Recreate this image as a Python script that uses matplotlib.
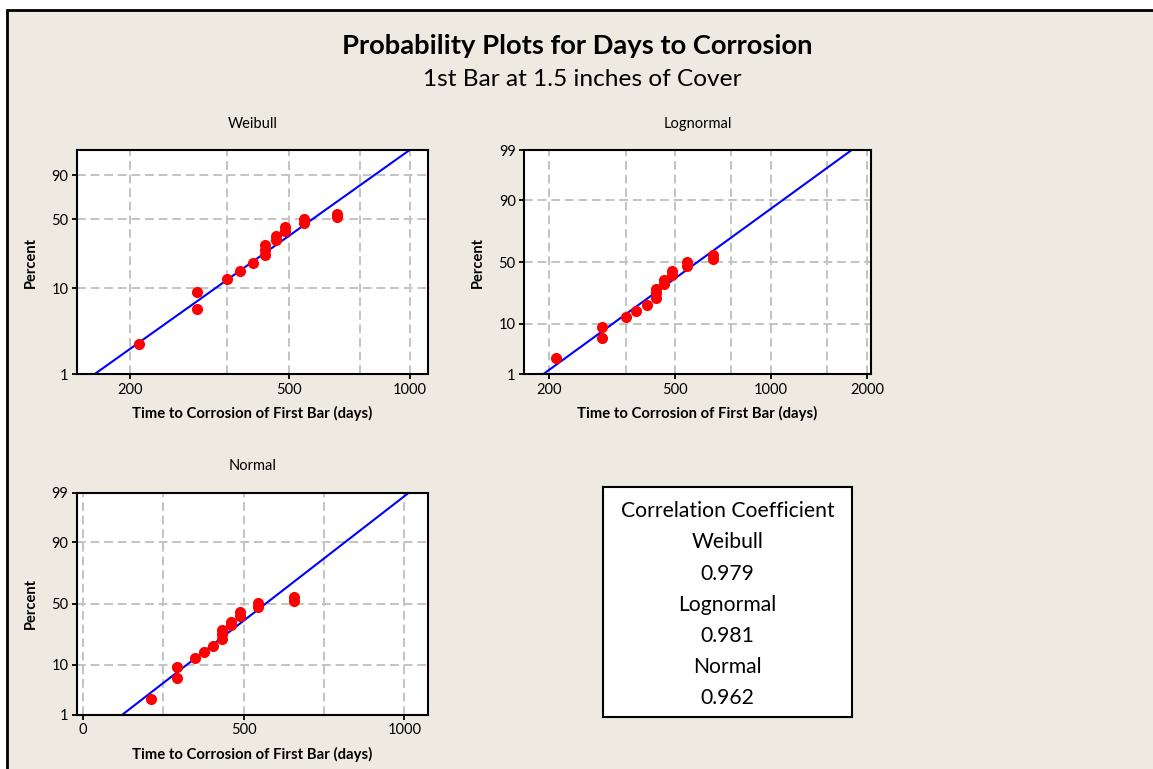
from statistics import NormalDist
import numpy as np
import matplotlib
matplotlib.use('Agg')
import matplotlib.pyplot as plt
from matplotlib.patches import Rectangle

plt.rcParams['font.family'] = ['Lato', 'DejaVu Sans']

# failure times (days) and the plotted percents
days = [211, 294, 294, 350, 377, 406, 434, 434, 434, 462, 462, 489, 489, 545, 545, 658, 658]
percent = [2.3, 5.8, 9.0, 12.6, 15.6, 18.8, 22.8, 26.1, 28.8, 32.4, 35.2, 39.6, 43.0, 46.9, 50.1, 52.4, 55.5]

# fitted lines: time at 1% and at 99%
fit_percent = [1, 99]
fit_weibull = [163, 998]
fit_lognormal = [192, 1790]
fit_normal = [124, 1015]

corr_names = ['Weibull', 'Lognormal', 'Normal']
corr_values = ['0.979', '0.981', '0.962']

W, H = 1153, 769
BG = '#EEEAE1'
_nd = NormalDist()


def fx(x):
    return x / W


def fy(y):
    return 1 - y / H


def weib_fwd(p):
    p = np.clip(np.asarray(p, float) / 100, 1e-6, 1 - 1e-6)
    return np.log(-np.log(1 - p))


def weib_inv(y):
    y = np.clip(np.asarray(y, float), -30, 5)
    return 100 * (1 - np.exp(-np.exp(y)))


def norm_fwd(p):
    p = np.clip(np.asarray(p, float) / 100, 1e-9, 1 - 1e-9)
    return np.vectorize(_nd.inv_cdf, otypes=[float])(p)


def norm_inv(z):
    return 100 * np.vectorize(_nd.cdf, otypes=[float])(np.asarray(z, float))


def panel(box, title, fit, yscale, logx, xlim, xticks, xgrid, yticks):
    left, top, right, bottom = box
    ax = fig.add_axes([fx(left), fy(bottom), fx(right - left), (bottom - top) / H])
    ax.set_facecolor('white')
    if logx:
        ax.set_xscale('log')
    ax.set_yscale('function', functions=yscale)
    ax.set_xlim(*xlim)
    ax.set_ylim(1, 99)
    ax.set_xticks(xticks, labels=[str(t) for t in xticks])
    ax.set_xticks(xgrid, labels=[''] * len(xgrid), minor=True)
    ax.set_yticks(yticks, labels=[str(t) for t in yticks])
    ax.set_yticks([10, 50, 90], labels=[''] * 3, minor=True)
    ax.tick_params(which='major', length=3.5, width=1.3, labelsize=10.5, colors='black', pad=2.5)
    ax.tick_params(which='minor', length=0)
    ax.grid(True, which='both', color='#C3C3C3', lw=1.4, ls=(0, (4.5, 2.5)))
    ax.set_axisbelow(True)
    for s in ax.spines.values():
        s.set_linewidth(1.5)
        s.set_color('black')
        s.set_zorder(5)

    ax.plot(fit, fit_percent, color='#0000FF', lw=1.5, zorder=3)
    ax.plot(days, percent, 'o', color='#FF0000', ms=8, mec='none', zorder=4)

    cx = (left + right) / 2
    fig.text(fx(cx), fy(top - 22), title, ha='center', va='baseline', fontsize=10.5)
    fig.text(fx(cx), fy(bottom + 44), 'Time to Corrosion of First Bar (days)',
             ha='center', va='baseline', fontsize=10.7, fontweight='bold')
    fig.text(fx(left - 46), fy((top + bottom) / 2), 'Percent', rotation=90,
             ha='center', va='center', fontsize=10.5, fontweight='bold')
    return ax


fig = plt.figure(figsize=(W / 100, H / 100), dpi=100, facecolor='white')
fig.add_artist(Rectangle((fx(7), -0.1), 1.2, fy(10) + 0.1, transform=fig.transFigure,
                         facecolor=BG, edgecolor='black', lw=2, zorder=0))

fig.text(fx(577), fy(54), 'Probability Plots for Days to Corrosion', ha='center',
         va='baseline', fontsize=19.7, fontweight='bold')
fig.text(fx(582), fy(86.5), '1st Bar at 1.5 inches of Cover', ha='center',
         va='baseline', fontsize=17.6)

panel((76.7, 150, 428.3, 374.3), 'Weibull', fit_weibull, (weib_fwd, weib_inv), True,
      (147.3, 1111), [200, 500, 1000], [200, 350, 500, 750, 1000], [1, 10, 50, 90])
panel((524, 150, 871, 374.3), 'Lognormal', fit_lognormal, (norm_fwd, norm_inv), True,
      (167.3, 2058), [200, 500, 1000, 2000], [200, 350, 500, 750, 1000, 1500, 2000],
      [1, 10, 50, 90, 99])
panel((76.7, 492.5, 428.3, 714.5), 'Normal', fit_normal, (norm_fwd, norm_inv), False,
      (-18.7, 1074.6), [0, 500, 1000], [0, 250, 500, 750, 1000], [1, 10, 50, 90, 99])

# correlation coefficient box
bx = fig.add_axes([fx(602.7), fy(717.3), fx(852.3 - 602.7), (717.3 - 487.3) / H])
bx.set_facecolor('white')
bx.set_xticks([])
bx.set_yticks([])
for s in bx.spines.values():
    s.set_linewidth(1.5)
lines = ['Correlation Coefficient']
for name, val in zip(corr_names, corr_values):
    lines += [name, val]
for i, txt in enumerate(lines):
    fig.text(fx(727.5), fy(517.3 + i * 31.2), txt, ha='center', va='baseline', fontsize=15.2)

fig.savefig('out.png', dpi=100)
